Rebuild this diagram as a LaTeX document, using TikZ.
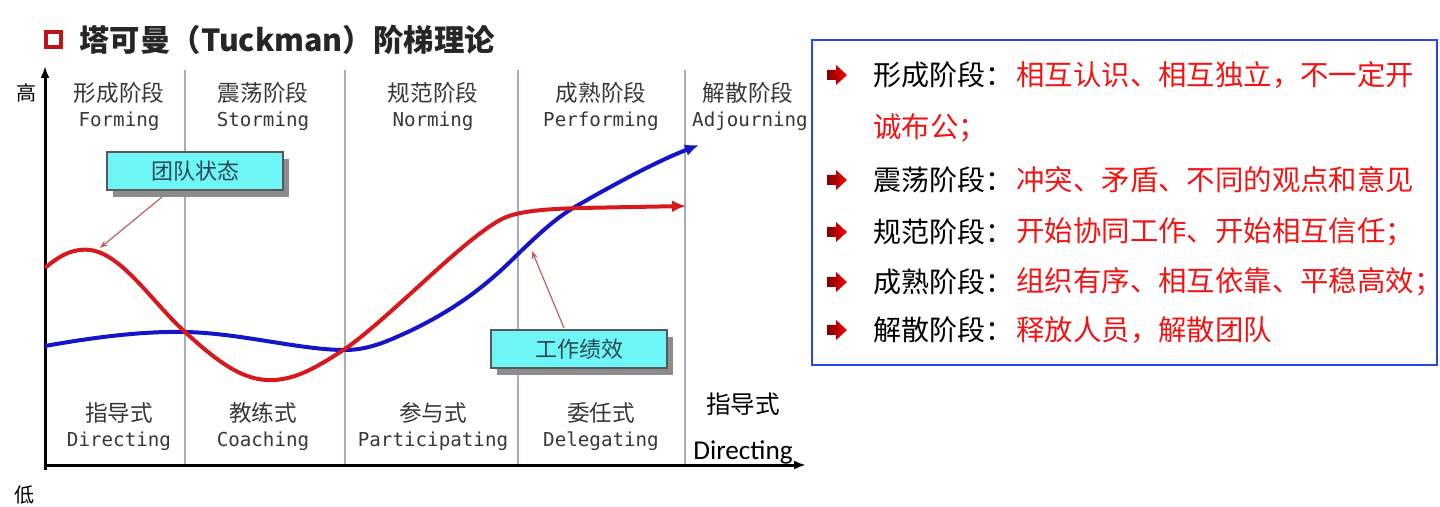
\documentclass[tikz,border=0pt]{standalone}
\usepackage{fontspec}
\usetikzlibrary{arrows.meta,shadows}
\newfontfamily\cjk{Noto Sans CJK SC}
\newfontfamily\monof{DejaVu Sans Mono}
\newfontfamily\carl{Carlito}
\definecolor{sepc}{RGB}{165,172,195}
\definecolor{stagec}{RGB}{55,55,55}
\definecolor{curvered}{RGB}{215,25,30}
\definecolor{curveblue}{RGB}{20,20,200}
\definecolor{calloutfill}{RGB}{110,245,245}
\definecolor{callouttext}{RGB}{40,70,85}
\definecolor{pointer}{RGB}{195,95,95}
\definecolor{panelblue}{RGB}{40,70,235}
\definecolor{textred}{RGB}{240,20,20}
\definecolor{titlered}{RGB}{190,20,25}
\begin{document}
\begin{tikzpicture}[x=0.5pt,y=-0.5pt,
  stagecn/.style={font=\cjk\fontsize{11.3}{13}\selectfont, text=stagec, inner sep=0},
  stageen/.style={font=\monof\fontsize{9.6}{11}\selectfont, text=stagec, inner sep=0},
  sepline/.style={draw=sepc, line width=0.8pt},
  axisline/.style={draw=black, line width=1.5pt, -{Latex[length=6pt,width=4.5pt]}},
  callout/.style={draw=black!65, fill=calloutfill, line width=0.6pt, minimum width=88pt, minimum height=19pt, inner sep=0,
     font=\cjk\fontsize{11}{13}\selectfont, text=callouttext,
     drop shadow={shadow xshift=3pt, shadow yshift=-3.5pt, fill=black!45, opacity=1}},
  pointerline/.style={draw=pointer, line width=0.6pt, -{Stealth[length=4pt,width=3pt]}},
  curvestyle/.style={line width=2pt, -{Latex[length=7pt,width=6pt]}},
  panelblack/.style={font=\cjk\fontsize{14}{16}\selectfont, text=black, inner sep=0, anchor=west},
  panelred/.style={font=\cjk\fontsize{14.2}{16}\selectfont, text=textred, inner sep=0, anchor=west},
  bulletarrow/.style={left color=black!10!red!55!black, right color=red}
]
\useasboundingbox (0,0) rectangle (1440,507);

% title
\node[draw=titlered, line width=2pt, minimum size=7.5pt, inner sep=0] (tsq) at (53,40) {};
\node[font=\cjk\bfseries\fontsize{15.2}{18}\selectfont, text=black!85, anchor=west, inner sep=0] (title) at (79,40) {塔可曼（Tuckman）阶梯理论};

% separators
\foreach \x/\n in {185/s1,345/s2,518/s3,685/s4} {
  \coordinate (\n t) at (\x,70);
  \coordinate (\n b) at (\x,465);
  \draw[sepline] (\n t) -- (\n b);
}

% axes
\coordinate (origin) at (45,465);
\coordinate (ytop) at (45,66);
\coordinate (xend) at (806,465);
\coordinate (ybot) at (45,470);
\draw[axisline] (ybot) -- (ytop);
\draw[axisline] (origin) -- (xend);
\node[font=\cjk\fontsize{10}{12}\selectfont, inner sep=0] (gao) at (27,93) {高};
\node[font=\cjk\fontsize{10}{12}\selectfont, inner sep=0] (di) at (24,495) {低};

% stage labels
\node[stagecn] (f1) at (119,93) {形成阶段};
\node[stageen] (f2) at (119,121) {Forming};
\node[stagecn] (st1) at (263,93) {震荡阶段};
\node[stageen] (st2) at (263,121) {Storming};
\node[stagecn] (n1) at (433,93) {规范阶段};
\node[stageen] (n2) at (433,121) {Norming};
\node[stagecn] (p1) at (601,93) {成熟阶段};
\node[stageen] (p2) at (601,121) {Performing};
\node[stagecn] (a1) at (748,93) {解散阶段};
\begin{scope}
\clip (600,100) rectangle (807,140);
\node[stageen] (a2) at (750,121) {Adjourning};
\end{scope}

% leadership labels
\node[stagecn] (d1) at (119,413) {指导式};
\node[stageen] (d2) at (119,441) {Directing};
\node[stagecn] (c1) at (263,413) {教练式};
\node[stageen] (c2) at (263,441) {Coaching};
\node[stagecn] (pa1) at (433,413) {参与式};
\node[stageen] (pa2) at (433,441) {Participating};
\node[stagecn] (de1) at (601,413) {委任式};
\node[stageen] (de2) at (601,441) {Delegating};
\node[font=\cjk\fontsize{12.3}{14}\selectfont, inner sep=0] (dd1) at (743,404) {指导式};
\node[font=\carl\fontsize{13.6}{15}\selectfont, inner sep=0] (dd2) at (743,452) {Directing};

% curves
\draw[curvestyle, draw=curveblue]
  (45,346) .. controls (90,338) and (140,331) .. (185,332)
  .. controls (240,333) and (300,350) .. (345,350)
  .. controls (370,350) and (390,340) .. (410,331)
  .. controls (460,307) and (490,282) .. (518,254)
  .. controls (545,228) and (560,215) .. (580,204)
  .. controls (620,181) and (660,160) .. (699,145);
\draw[curvestyle, draw=curvered]
  (45,268) .. controls (60,255) and (74,248) .. (90,250)
  .. controls (122,254) and (152,302) .. (185,332)
  .. controls (220,364) and (245,382) .. (275,380)
  .. controls (300,378) and (320,365) .. (345,349)
  .. controls (392,316) and (466,236) .. (504,218)
  .. controls (520,211) and (545,209) .. (580,208)
  -- (686,206);

% callouts
\node[callout] (state) at (195,171) {团队状态};
\node[callout] (perf) at (579,349) {工作绩效};
\coordinate (statept) at (100,248);
\coordinate (perfpt) at (532,251);
\draw[pointerline] (162,197) -- (statept);
\draw[pointerline] (564,328) -- (perfpt);

% right panel
\node[draw=panelblue, line width=0.9pt, minimum width=312.5pt, minimum height=162.5pt, inner sep=0] (panel) at (1124.5,202.5) {};
\foreach \y/\n in {75/b1,180/b2,232/b3,282/b4,330/b5} {
  \shade[bulletarrow] (827,\y-5) -- (836,\y-5) -- (836,\y-10) -- (847,\y) -- (836,\y+10) -- (836,\y+5) -- (827,\y+5) -- cycle;
}
\node[panelblack] (l1a) at (873,75) {形成阶段：};
\node[panelred] (l1b) at (1016,75) {相互认识、相互独立，不一定开};
\node[panelred] (l1c) at (873,128) {诚布公；};
\node[panelblack] (l2a) at (873,180) {震荡阶段：};
\node[panelred] (l2b) at (1016,180) {冲突、矛盾、不同的观点和意见};
\node[panelblack] (l3a) at (873,232) {规范阶段：};
\node[panelred] (l3b) at (1016,232) {开始协同工作、开始相互信任；};
\node[panelblack] (l4a) at (873,282) {成熟阶段：};
\node[panelred] (l4b) at (1016,282) {组织有序、相互依靠、平稳高效；};
\node[panelblack] (l5a) at (873,330) {解散阶段：};
\node[panelred] (l5b) at (1016,330) {释放人员，解散团队};
\end{tikzpicture}
\end{document}
